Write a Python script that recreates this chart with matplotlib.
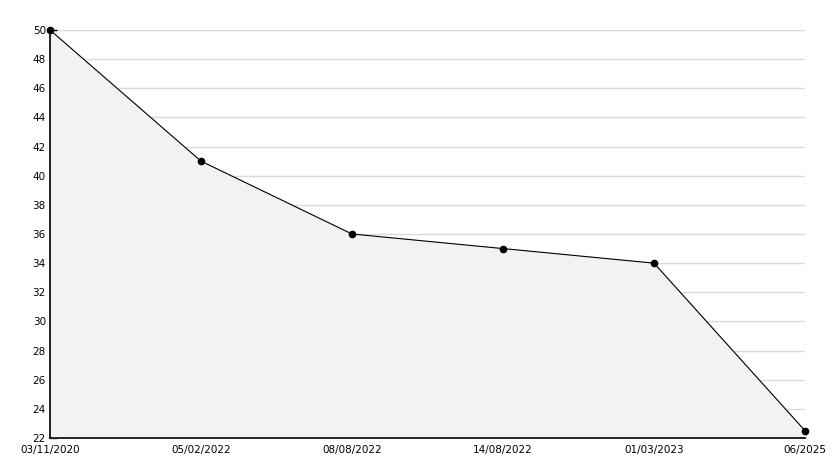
import matplotlib
matplotlib.use("Agg")
from matplotlib import pyplot as plt
from matplotlib.ticker import MultipleLocator
import numpy as np

dates = ["03/11/2020", "05/02/2022", "08/08/2022", "14/08/2022", "01/03/2023", "06/2025"]
values = [50, 41, 36, 35, 34, 22.5]

W, H = 834, 468
fig = plt.figure(figsize=(W / 100, H / 100), dpi=100)
ax = fig.add_axes([50 / W, (H - 438) / H, (805 - 50) / W, (438 - 30) / H])

x = np.arange(len(dates))
ax.fill_between(x, values, 22, color="#f2f2f2", zorder=1)
ax.plot(x, values, color="black", lw=0.8, marker="o", ms=4.5, zorder=3, clip_on=False)

ax.set_xlim(0, len(dates) - 1)
ax.set_ylim(22, 50)
ax.set_xticks(x)
ax.set_xticklabels(dates)
ax.yaxis.set_major_locator(MultipleLocator(2))
ax.yaxis.set_minor_locator(MultipleLocator(1))

ax.grid(axis="y", which="major", color="#d9d9d9", lw=1, zorder=0)
ax.set_axisbelow(True)

for s in ["top", "right"]:
    ax.spines[s].set_visible(False)
for s in ["left", "bottom"]:
    ax.spines[s].set_linewidth(1.2)

ax.tick_params(axis="both", which="major", direction="in", length=5, width=1, labelsize=7.5, pad=3)
ax.tick_params(axis="y", which="minor", direction="in", length=4, width=1)
ax.tick_params(axis="x", pad=5)

fig.savefig("out.png", dpi=100)
